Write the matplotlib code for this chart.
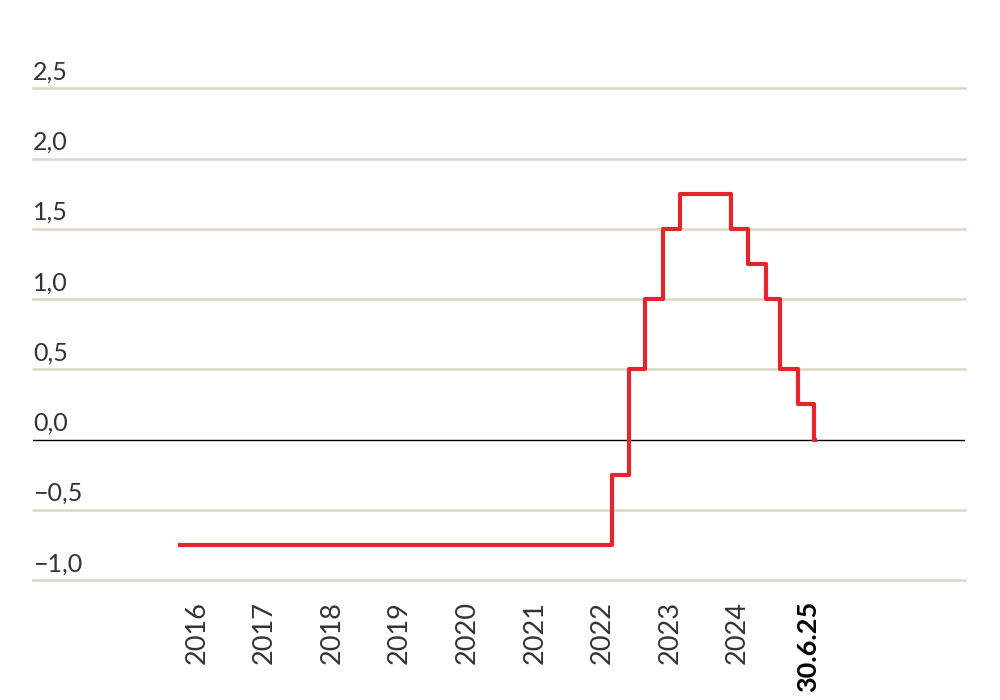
import matplotlib
matplotlib.use("Agg")
import matplotlib.pyplot as plt
import matplotlib.transforms as mtransforms

# policy rate, step changes (decimal year, rate in %)
dates = [2016.07, 2022.46, 2022.72, 2022.95, 2023.22, 2023.47, 2024.22,
         2024.47, 2024.74, 2024.95, 2025.21, 2025.46, 2025.47]
rates = [-0.75, -0.25, 0.5, 1.0, 1.5, 1.75, 1.5, 1.25, 1.0, 0.5, 0.25, 0.0, 0.0]

years = [2016, 2017, 2018, 2019, 2020, 2021, 2022, 2023, 2024]
last_label = "30.6.25"
yticks = [-1.0, -0.5, 0.0, 0.5, 1.0, 1.5, 2.0, 2.5]

plt.rcParams['font.family'] = ['Lato', 'DejaVu Sans']

fig = plt.figure(figsize=(10, 7), dpi=100)
ax = fig.add_axes([0.033, 1 - 580 / 700, 0.932, (580 - 18) / 700])

trans = mtransforms.blended_transform_factory(ax.transAxes, ax.transData)
for v in yticks:
    if v == 0:
        ax.axhline(v, color='black', lw=1.0, zorder=2)
    else:
        ax.axhline(v, color='#ddd5c5', lw=1.8, zorder=1, clip_on=False)
    lab = f"{v:.1f}".replace('.', ',').replace('-', '\u2212')
    ax.text(0, v + 0.035, lab, transform=trans, ha='left', va='bottom',
            fontsize=18, color='#333333')

ax.step(dates, rates, where='post', color='#e3262d', lw=3.0, zorder=3)

ax.set_xlim(2013.89, 2027.69)
ax.set_ylim(-1.0, 3.0)

tick_pos = [y + 0.32 for y in years] + [2025.37]
ax.set_xticks(tick_pos)
labels = ax.set_xticklabels([str(y) for y in years] + [last_label],
                            rotation=90, fontsize=19.5, color='#333333',
                            va='top', ha='center')
labels[-1].set_fontweight('bold')
labels[-1].set_color('black')
ax.tick_params(axis='x', length=0, pad=15)
ax.set_yticks([])
for s in ax.spines.values():
    s.set_visible(False)

fig.savefig("out.png", dpi=100)
